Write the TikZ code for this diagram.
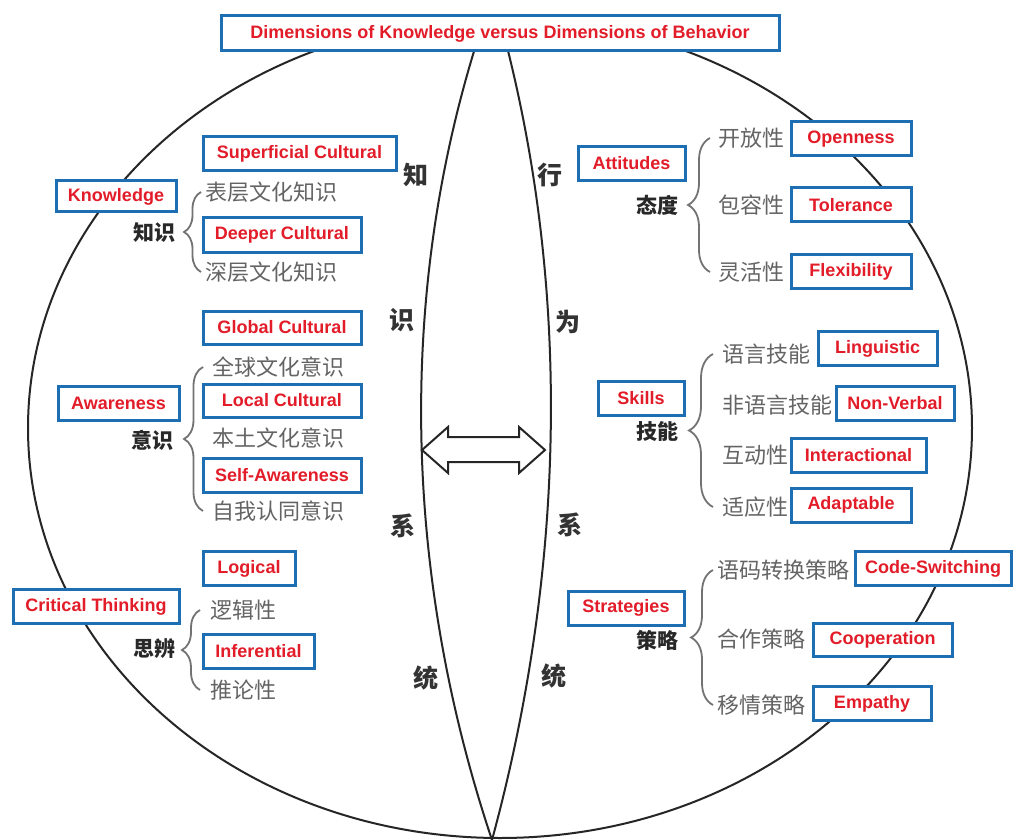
\documentclass[tikz,border=0pt]{standalone}
\usepackage{fontspec}
\setmainfont{Liberation Sans}
\newfontfamily\cjk{Noto Sans CJK SC}
\usetikzlibrary{decorations.pathreplacing}
\definecolor{boxblue}{RGB}{30,110,180}
\definecolor{labelred}{RGB}{226,28,40}
\definecolor{subgray}{RGB}{100,100,100}
\definecolor{bracegray}{RGB}{115,115,115}
\definecolor{catgray}{RGB}{40,40,40}
\begin{document}
\begin{tikzpicture}[x=1pt,y=-1pt,
  tag/.style={draw=boxblue, line width=3pt, fill=white, text=labelred,
    font=\fontsize{18}{18}\selectfont\bfseries, inner sep=0pt, minimum height=34pt},
  sub/.style={font=\cjk\fontsize{22}{22}\selectfont, text=subgray, inner sep=0pt, anchor=west},
  cat/.style={font=\cjk\bfseries\fontsize{21}{21}\selectfont, text=catgray, inner sep=0pt},
  axislabel/.style={font=\cjk\bfseries\fontsize{25}{25}\selectfont, text=black!80, inner sep=0pt},
  curly/.style={draw=bracegray, line width=1.8pt, decorate, decoration={brace, amplitude=#1}},
  outline/.style={draw=black!85, line width=2pt}
]
% page
\useasboundingbox[fill=white] (0,0) rectangle (1013,840);

% outer ellipse and central lens
\draw[outline] (500,428) ellipse [x radius=472pt, y radius=410pt];
\draw[outline] (484,20) .. controls (395,286) and (403,574) .. (492,840);
\draw[outline] (500,20) .. controls (573,288) and (565,571) .. (492,840);

% double arrow between the two halves
\draw[outline, fill=white, line join=miter]
  (422,450) -- (448,427) -- (448,437) -- (519,437) -- (519,427) -- (545,450)
  -- (519,473) -- (519,462) -- (448,462) -- (448,473) -- cycle;

% vertical axis labels
\node[axislabel] (zhi)  at (416,175) {知};
\node[axislabel] (shi)  at (402,320) {识};
\node[axislabel] (xiL)  at (403,526) {系};
\node[axislabel] (tongL) at (426,678) {统};
\node[axislabel] (xing) at (550,175) {行};
\node[axislabel] (wei)  at (568,322) {为};
\node[axislabel] (xiR)  at (570,525) {系};
\node[axislabel] (tongR) at (554,676) {统};

% title
\node[tag, minimum width=558pt, minimum height=35pt] (title) at (500,33.5)
  {Dimensions of Knowledge versus Dimensions of Behavior};

% ---------- knowledge side ----------
\node[tag, minimum width=120pt, minimum height=31pt] (know) at (116,196.5) {Knowledge};
\node[cat] (knowzh) at (154,233) {知识};
\node[tag, minimum width=193pt] (superf) at (299.5,153.5) {Superficial Cultural};
\node[sub] (k1) at (205,192) {表层文化知识};
\node[tag, minimum width=158pt] (deeper) at (282,235) {Deeper Cultural};
\node[sub] (k2) at (205,272) {深层文化知识};
\draw[curly=17pt] ([xshift=-4pt]k2.west) -- ([xshift=-4pt]k1.west);

\node[tag, minimum width=121pt] (aware) at (118.5,403.5) {Awareness};
\node[cat] (awarezh) at (152,440) {意识};
\node[tag, minimum width=158pt, minimum height=33pt] (global) at (282,327.5) {Global Cultural};
\node[sub] (a1) at (212,367) {全球文化意识};
\node[tag, minimum width=158pt, minimum height=33pt] (local) at (282,400.5) {Local Cultural};
\node[sub] (a2) at (212,438) {本土文化意识};
\node[tag, minimum width=158pt] (selfaw) at (282,475) {Self-Awareness};
\node[sub] (a3) at (212,511) {自我认同意识};
\draw[curly=19pt] ([xshift=-9pt]a3.west) -- ([xshift=-9pt]a1.west);

\node[tag, minimum width=166pt] (crit) at (96,606.5) {Critical Thinking};
\node[cat] (critzh) at (154,649) {思辨};
\node[tag, minimum width=92pt] (logic) at (249,568.5) {Logical};
\node[sub] (c1) at (210,610) {逻辑性};
\node[tag, minimum width=111pt] (infer) at (258.5,651) {Inferential};
\node[sub] (c2) at (210,690) {推论性};
\draw[curly=18pt] ([xshift=-10pt]c2.west) -- ([xshift=-10pt]c1.west);

% ---------- behaviour side ----------
\node[tag, minimum width=107pt] (atti) at (631.5,163.5) {Attitudes};
\node[cat] (attizh) at (657,205) {态度};
\node[sub] (t1) at (718,138) {开放性};
\node[tag, minimum width=120pt] (open) at (851,139) {Openness};
\node[sub] (t2) at (718,205) {包容性};
\node[tag, minimum width=120pt] (toler) at (851,205) {Tolerance};
\node[sub] (t3) at (718,272) {灵活性};
\node[tag, minimum width=120pt] (flex) at (851,271.5) {Flexibility};
\draw[curly=22pt] ([xshift=-8pt]t3.west) -- ([xshift=-8pt]t1.west);

\node[tag, minimum width=86pt] (skill) at (641,398.5) {Skills};
\node[cat] (skillzh) at (657,431) {技能};
\node[sub] (s1) at (722,354) {语言技能};
\node[tag, minimum width=119pt] (ling) at (877.5,348.5) {Linguistic};
\node[sub] (s2) at (722,405) {非语言技能};
\node[tag, minimum width=118pt] (nonv) at (895,403.5) {Non-Verbal};
\node[sub] (s3) at (722,455) {互动性};
\node[tag, minimum width=135pt] (inter) at (858.5,455) {Interactional};
\node[sub] (s4) at (722,507) {适应性};
\node[tag, minimum width=120pt] (adapt) at (851,505) {Adaptable};
\draw[curly=24pt] ([xshift=-9pt]s4.west) -- ([xshift=-9pt]s1.west);

\node[tag, minimum width=116pt] (strat) at (626,608) {Strategies};
\node[cat] (stratzh) at (657,640) {策略};
\node[sub] (g1) at (717,570) {语码转换策略};
\node[tag, minimum width=156pt] (codes) at (933,568.5) {Code-Switching};
\node[sub] (g2) at (717,639) {合作策略};
\node[tag, minimum width=139pt, minimum height=33pt] (coop) at (882.5,639.5) {Cooperation};
\node[sub] (g3) at (717,705) {移情策略};
\node[tag, minimum width=118pt] (empa) at (872,703.5) {Empathy};
\draw[curly=22pt] ([xshift=-4pt]g3.west) -- ([xshift=-4pt]g1.west);
\end{tikzpicture}
\end{document}
